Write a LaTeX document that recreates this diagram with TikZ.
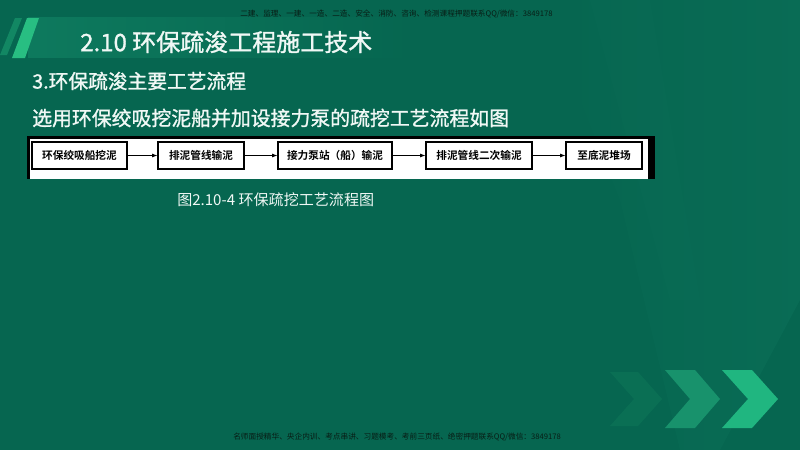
\documentclass[tikz,border=0pt]{standalone}
\usepackage{fontspec}
\setmainfont{Noto Sans CJK SC}
\newfontfamily\cjkb{Noto Sans CJK SC Bold}
\newfontfamily\cjkm[FakeBold=1.2]{Noto Sans CJK SC}
\usetikzlibrary{arrows.meta,fadings}
\definecolor{bgg}{RGB}{6,102,80}
\definecolor{bgl}{RGB}{14,116,92}
\definecolor{band}{RGB}{14,122,94}
\definecolor{slashA}{RGB}{40,190,130}
\definecolor{slashB}{RGB}{24,150,108}
\definecolor{chevA}{RGB}{32,182,128}
\definecolor{chevB}{RGB}{24,146,108}
\definecolor{chevC}{RGB}{12,116,86}
\definecolor{wm}{RGB}{8,30,22}
\definecolor{txt}{RGB}{240,248,245}
\tikzset{
  flowbox/.style={draw=black,line width=0.9pt,fill=white,minimum height=20.25pt,inner sep=0pt,font=\cjkb\fontsize{8}{9}\selectfont,text=black},
  flowarrow/.style={draw=black,line width=0.6pt,-{Latex[length=4pt,width=3pt]}},
  wmtext/.style={anchor=west,inner sep=0pt,text=wm,font=\fontsize{5.75}{6}\selectfont},
}
\begin{document}
\begin{tikzpicture}[x=0.75pt,y=-0.75pt]
\useasboundingbox (0,0) rectangle (800,450);
% background
\fill[bgg] (0,0) rectangle (800,450);
\fill[bgl,path fading=west,opacity=0.45] (540,0) -- (800,0) -- (800,300) -- (720,450) -- (680,450) -- (620,200) -- cycle;
\fill[bgl,opacity=0.15] (590,0) -- (650,0) -- (700,300) -- (670,300) -- cycle;
% title band
\fill[band,path fading=east] (28,17) rectangle (420,58);
% slashes
\fill[slashB,opacity=0.7] (15,18) -- (22,18) -- (7,55) -- (0,55) -- cycle;
\fill[slashA] (27,18) -- (39,18) -- (25,58) -- (12,58) -- cycle;
% texts
\node[anchor=west,inner sep=0pt,text=txt,font=\cjkm\fontsize{18}{20}\selectfont] (title) at (80,42) {2.10 环保疏浚工程施工技术};
\node[anchor=west,inner sep=0pt,text=txt,font=\cjkm\fontsize{14.8}{16}\selectfont] (sub1) at (32,81) {3.环保疏浚主要工艺流程};
\node[anchor=west,inner sep=0pt,text=txt,font=\cjkm\fontsize{14.9}{16}\selectfont] (sub2) at (32,118) {选用环保绞吸挖泥船并加设接力泵的疏挖工艺流程如图};
% figure frame
\fill[black] (27,136) rectangle (655,179);
\fill[white] (30,139) rectangle (648,179);
% flow boxes
\node[flowbox,minimum width=71.25pt] (b1) at (79.5,155.5) {环保绞吸船挖泥};
\node[flowbox,minimum width=64.5pt] (b2) at (201,155.5) {排泥管线输泥};
\node[flowbox,minimum width=85.5pt] (b3) at (335,155.5) {接力泵站（船）输泥};
\node[flowbox,minimum width=79.5pt] (b4) at (479,155.5) {排泥管线二次输泥};
\node[flowbox,minimum width=57pt] (b5) at (604,155.5) {至底泥堆场};
\draw[flowarrow] (b1) -- (b2);
\draw[flowarrow] (b2) -- (b3);
\draw[flowarrow] (b3) -- (b4);
\draw[flowarrow] (b4) -- (b5);
% caption
\node[anchor=west,inner sep=0pt,text=txt,font=\fontsize{11.3}{13}\selectfont] (cap) at (177,200) {图2.10-4 环保疏挖工艺流程图};
% watermarks
\node[wmtext] (wm1) at (240,14) {二建、监理、一建、一造、二造、安全、消防、咨询、检测课程押题联系QQ/微信：3849178};
\node[wmtext] (wm2) at (233,437) {名师面授精华、央企内训、考点串讲、习题模考、考前三页纸、绝密押题联系QQ/微信：3849178};
% chevrons
\fill[chevC,opacity=0.7] (610,372) -- (638,372) -- (662,399) -- (638,426) -- (610,426) -- (634,399) -- cycle;
\fill[chevB] (665,370) -- (695,370) -- (720,399) -- (695,428) -- (665,428) -- (690,399) -- cycle;
\fill[chevA] (722,370) -- (752,370) -- (778,399) -- (752,428) -- (722,428) -- (748,399) -- cycle;
\end{tikzpicture}
\end{document}
